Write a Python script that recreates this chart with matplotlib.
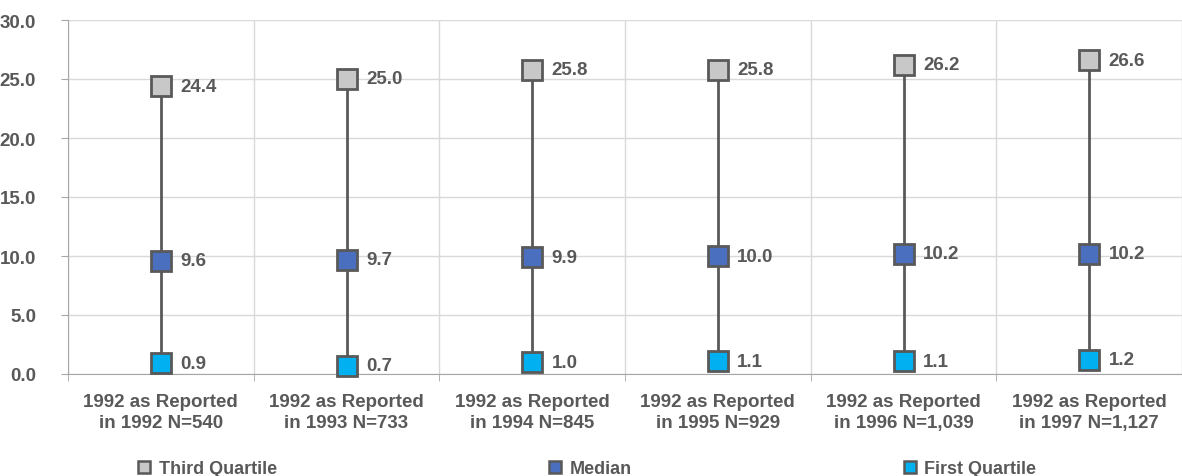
import numpy as np
import matplotlib
matplotlib.use("Agg")
import matplotlib.pyplot as plt

plt.rcParams['font.family'] = ['Liberation Sans', 'DejaVu Sans']
plt.rcParams['font.weight'] = 'bold'

# data
categories = ["1992 as Reported\nin 1992 N=540", "1992 as Reported\nin 1993 N=733",
              "1992 as Reported\nin 1994 N=845", "1992 as Reported\nin 1995 N=929",
              "1992 as Reported\nin 1996 N=1,039", "1992 as Reported\nin 1997 N=1,127"]
third_quartile = [24.4, 25.0, 25.8, 25.8, 26.2, 26.6]
median = [9.6, 9.7, 9.9, 10.0, 10.2, 10.2]
first_quartile = [0.9, 0.7, 1.0, 1.1, 1.1, 1.2]
yticks = [0, 5, 10, 15, 20, 25, 30]

txt = '#595959'
edge = '#595959'
grid = '#D9D9D9'

fig = plt.figure(figsize=(11.82, 4.77), dpi=100)
ax = fig.add_axes([68 / 1182, 102 / 477, 1114 / 1182, 354 / 477])

x = np.arange(len(categories))

# vertical lines between quartiles
ax.vlines(x, first_quartile, third_quartile, color=edge, lw=2, zorder=2)

series = [("Third Quartile", third_quartile, '#C8C8C8'),
          ("Median", median, '#4A6FBF'),
          ("First Quartile", first_quartile, '#00B0F0')]
handles = []
for name, vals, col in series:
    ax.plot(x, vals, ls='none', marker='s', markersize=14, markerfacecolor=col,
            markeredgecolor=edge, markeredgewidth=2, zorder=3, clip_on=False)
    h, = ax.plot([], [], ls='none', marker='s', markersize=9, markerfacecolor=col,
                 markeredgecolor=edge, markeredgewidth=1.8, label=name)
    handles.append(h)
    for xi, v in zip(x, vals):
        ax.annotate(f"{v:.1f}", (xi, v), xytext=(14, 0), textcoords='offset points',
                    ha='left', va='center', fontsize=13.5, fontweight='bold', color=txt)

ax.set_xlim(-0.5, len(categories) - 0.5)
ax.set_ylim(0, 30)
ax.set_yticks(yticks)
ax.set_yticklabels([f"{t:.1f}" for t in yticks])
ax.set_xticks(x)
ax.set_xticklabels(categories, linespacing=1.25)
ax.set_xticks(np.arange(len(categories) + 1) - 0.5, minor=True)

ax.tick_params(axis='x', which='major', length=0, pad=14, labelsize=13.5, labelcolor=txt)
ax.tick_params(axis='x', which='minor', length=5, color='#A6A6A6', direction='out')
ax.tick_params(axis='y', which='major', length=5, color='#A6A6A6', pad=18,
               labelsize=13.5, labelcolor=txt)
for lab in ax.get_xticklabels() + ax.get_yticklabels():
    lab.set_fontweight('bold')

ax.grid(axis='y', which='major', color=grid, lw=1, zorder=0)
ax.grid(axis='x', which='minor', color=grid, lw=1, zorder=0)
ax.set_axisbelow(True)
for s in ['top', 'right']:
    ax.spines[s].set_visible(False)
for s in ['left', 'bottom']:
    ax.spines[s].set_color('#A6A6A6')

fig.legend(handles=handles, loc='center left', bbox_to_anchor=(128 / 1182, 7 / 477),
           ncol=3, frameon=False, prop={'weight': 'bold', 'size': 13},
           handletextpad=0.3, columnspacing=14.9, handlelength=1.0, labelcolor=txt,
           borderaxespad=0)

fig.savefig("out.png", dpi=100)
